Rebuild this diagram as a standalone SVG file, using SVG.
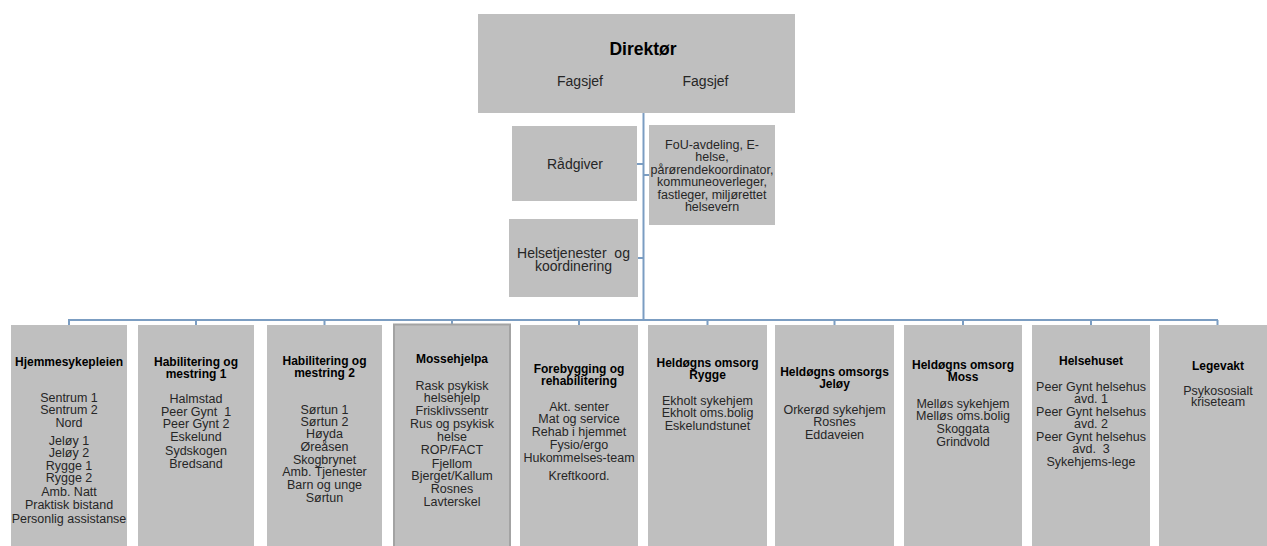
<svg xmlns="http://www.w3.org/2000/svg" width="1267" height="546" viewBox="0 0 1267 546">
<style>
.box{fill:#bfbfbf;}
.boxb{fill:#bfbfbf;stroke:#a3a3a3;stroke-width:2;}
.ln{stroke:#7b9dc2;stroke-width:2;fill:none;}
text{font-family:"Liberation Sans",Arial,sans-serif;text-anchor:middle;fill:#262626;}
.t{font-size:12px;font-weight:bold;fill:#000;}
.b{font-size:12.5px;}
.m{font-size:14px;}
.h{font-size:17.5px;font-weight:bold;fill:#000;}
</style>
<rect width="1267" height="546" fill="#ffffff"/>
<g id="connectors">
<path class="ln" d="M643.5 113 V320"/>
<path class="ln" d="M68 320 H1218"/>
<path class="ln" d="M637 164 H643.5 M643.5 175 H649 M638 258 H643.5"/>
<path class="ln" d="M69 320 V325 M196 320 V325 M324.5 320 V325 M452 320 V324 M579 320 V325 M707.5 320 V325 M834.5 320 V325 M963 320 V325 M1091 320 V325 M1217.5 320 V325"/>
</g>
<g id="direktor">
<rect class="box" x="478" y="14" width="317" height="99"/>
<text class="h" x="643" y="55">Direktør</text>
<text class="m" x="580" y="86">Fagsjef</text>
<text class="m" x="705.5" y="86">Fagsjef</text>
</g>
<g id="radgiver">
<rect class="box" x="512" y="126" width="125" height="75"/>
<text class="m" x="575" y="169">Rådgiver</text>
</g>
<g id="fou">
<rect class="box" x="649" y="125" width="126" height="100"/>
<text class="b"><tspan x="712" y="149">FoU-avdeling,  E-</tspan><tspan x="712" y="161.4">helse,</tspan><tspan x="712" y="173.8">pårørendekoordinator,</tspan><tspan x="712" y="186.2">kommuneoverleger,</tspan><tspan x="712" y="198.6">fastleger, miljørettet</tspan><tspan x="712" y="211">helsevern</tspan></text>
</g>
<g id="helsetjenester">
<rect class="box" x="509" y="219" width="129" height="78"/>
<text class="m"><tspan x="573.5" y="257.5" xml:space="preserve">Helsetjenester  og</tspan><tspan x="573.5" y="271">koordinering</tspan></text>
</g>
<g id="hjemmesykepleien">
<rect class="box" x="11" y="325" width="116" height="225"/>
<text class="t" x="69" y="366">Hjemmesykepleien</text>
<text class="b"><tspan x="69" y="402">Sentrum 1</tspan><tspan x="69" y="414">Sentrum 2</tspan><tspan x="69" y="426.5">Nord</tspan><tspan x="69" y="444.5">Jeløy  1</tspan><tspan x="69" y="457">Jeløy  2</tspan><tspan x="69" y="469.5">Rygge 1</tspan><tspan x="69" y="482">Rygge 2</tspan><tspan x="69" y="496">Amb. Natt</tspan><tspan x="69" y="509">Praktisk bistand</tspan><tspan x="69" y="523">Personlig assistanse</tspan></text>
</g>
<g id="habilitering1">
<rect class="box" x="138" y="325" width="116" height="225"/>
<text class="t"><tspan x="196" y="366">Habilitering og</tspan><tspan x="196" y="378">mestring 1</tspan></text>
<text class="b"><tspan x="196" y="403">Halmstad</tspan><tspan x="196" y="415.5" xml:space="preserve">Peer Gynt  1</tspan><tspan x="196" y="428">Peer Gynt 2</tspan><tspan x="196" y="441">Eskelund</tspan><tspan x="196" y="454.5">Sydskogen</tspan><tspan x="196" y="468">Bredsand</tspan></text>
</g>
<g id="habilitering2">
<rect class="box" x="267" y="325" width="115" height="225"/>
<text class="t"><tspan x="324.5" y="365">Habilitering og</tspan><tspan x="324.5" y="377">mestring 2</tspan></text>
<text class="b"><tspan x="324.5" y="413.5">Sørtun 1</tspan><tspan x="324.5" y="426">Sørtun 2</tspan><tspan x="324.5" y="438">Høyda</tspan><tspan x="324.5" y="451">Øreåsen</tspan><tspan x="324.5" y="463.5">Skogbrynet</tspan><tspan x="324.5" y="476">Amb. Tjenester</tspan><tspan x="324.5" y="489">Barn og unge</tspan><tspan x="324.5" y="501.5">Sørtun</tspan></text>
</g>
<g id="mossehjelpa">
<rect class="boxb" x="394" y="324.5" width="116" height="226"/>
<text class="t" x="452" y="362.5">Mossehjelpa</text>
<text class="b"><tspan x="452" y="389.5">Rask psykisk</tspan><tspan x="452" y="402">helsehjelp</tspan><tspan x="452" y="414.5">Frisklivssentr</tspan><tspan x="452" y="427.5">Rus og psykisk</tspan><tspan x="452" y="441">helse</tspan><tspan x="452" y="454">ROP/FACT</tspan><tspan x="452" y="467.5">Fjellom</tspan><tspan x="452" y="480">Bjerget/Kallum</tspan><tspan x="452" y="493">Rosnes</tspan><tspan x="452" y="506">Lavterskel</tspan></text>
</g>
<g id="forebygging">
<rect class="box" x="520" y="325" width="118" height="225"/>
<text class="t"><tspan x="579" y="372.5">Forebygging og</tspan><tspan x="579" y="384.5">rehabilitering</tspan></text>
<text class="b"><tspan x="579" y="410.5">Akt.  senter</tspan><tspan x="579" y="422.5">Mat og  service</tspan><tspan x="579" y="435.5">Rehab i hjemmet</tspan><tspan x="579" y="449">Fysio/ergo</tspan><tspan x="579" y="461.5">Hukommelses-team</tspan><tspan x="579" y="479.5">Kreftkoord.</tspan></text>
</g>
<g id="heldogns-rygge">
<rect class="box" x="648" y="325" width="119" height="225"/>
<text class="t"><tspan x="707.5" y="366.5">Heldøgns omsorg</tspan><tspan x="707.5" y="378.5">Rygge</tspan></text>
<text class="b"><tspan x="707.5" y="404.5">Ekholt sykehjem</tspan><tspan x="707.5" y="417">Ekholt oms.bolig</tspan><tspan x="707.5" y="430">Eskelundstunet</tspan></text>
</g>
<g id="heldogns-jeloy">
<rect class="box" x="775" y="325" width="119" height="225"/>
<text class="t"><tspan x="834.5" y="375.5">Heldøgns omsorgs</tspan><tspan x="834.5" y="387.5">Jeløy</tspan></text>
<text class="b"><tspan x="834.5" y="413.5">Orkerød sykehjem</tspan><tspan x="834.5" y="426">Rosnes</tspan><tspan x="834.5" y="439">Eddaveien</tspan></text>
</g>
<g id="heldogns-moss">
<rect class="box" x="904" y="325" width="118" height="225"/>
<text class="t"><tspan x="963" y="368.5">Heldøgns omsorg</tspan><tspan x="963" y="380.5">Moss</tspan></text>
<text class="b"><tspan x="963" y="407.5">Melløs sykehjem</tspan><tspan x="963" y="420">Melløs oms.bolig</tspan><tspan x="963" y="432.5">Skoggata</tspan><tspan x="963" y="446">Grindvold</tspan></text>
</g>
<g id="helsehuset">
<rect class="box" x="1032" y="325" width="118" height="225"/>
<text class="t" x="1091" y="364.5">Helsehuset</text>
<text class="b"><tspan x="1091" y="390.5">Peer Gynt helsehus</tspan><tspan x="1091" y="403">avd. 1</tspan><tspan x="1091" y="415.5">Peer Gynt helsehus</tspan><tspan x="1091" y="428">avd. 2</tspan><tspan x="1091" y="440.5">Peer Gynt helsehus</tspan><tspan x="1091" y="453" xml:space="preserve">avd.  3</tspan><tspan x="1091" y="466">Sykehjems-lege</tspan></text>
</g>
<g id="legevakt">
<rect class="box" x="1159" y="325" width="118" height="225"/>
<text class="t" x="1218" y="369.5">Legevakt</text>
<text class="b"><tspan x="1218" y="394.5">Psykososialt</tspan><tspan x="1218" y="406">kriseteam</tspan></text>
</g>
</svg>
